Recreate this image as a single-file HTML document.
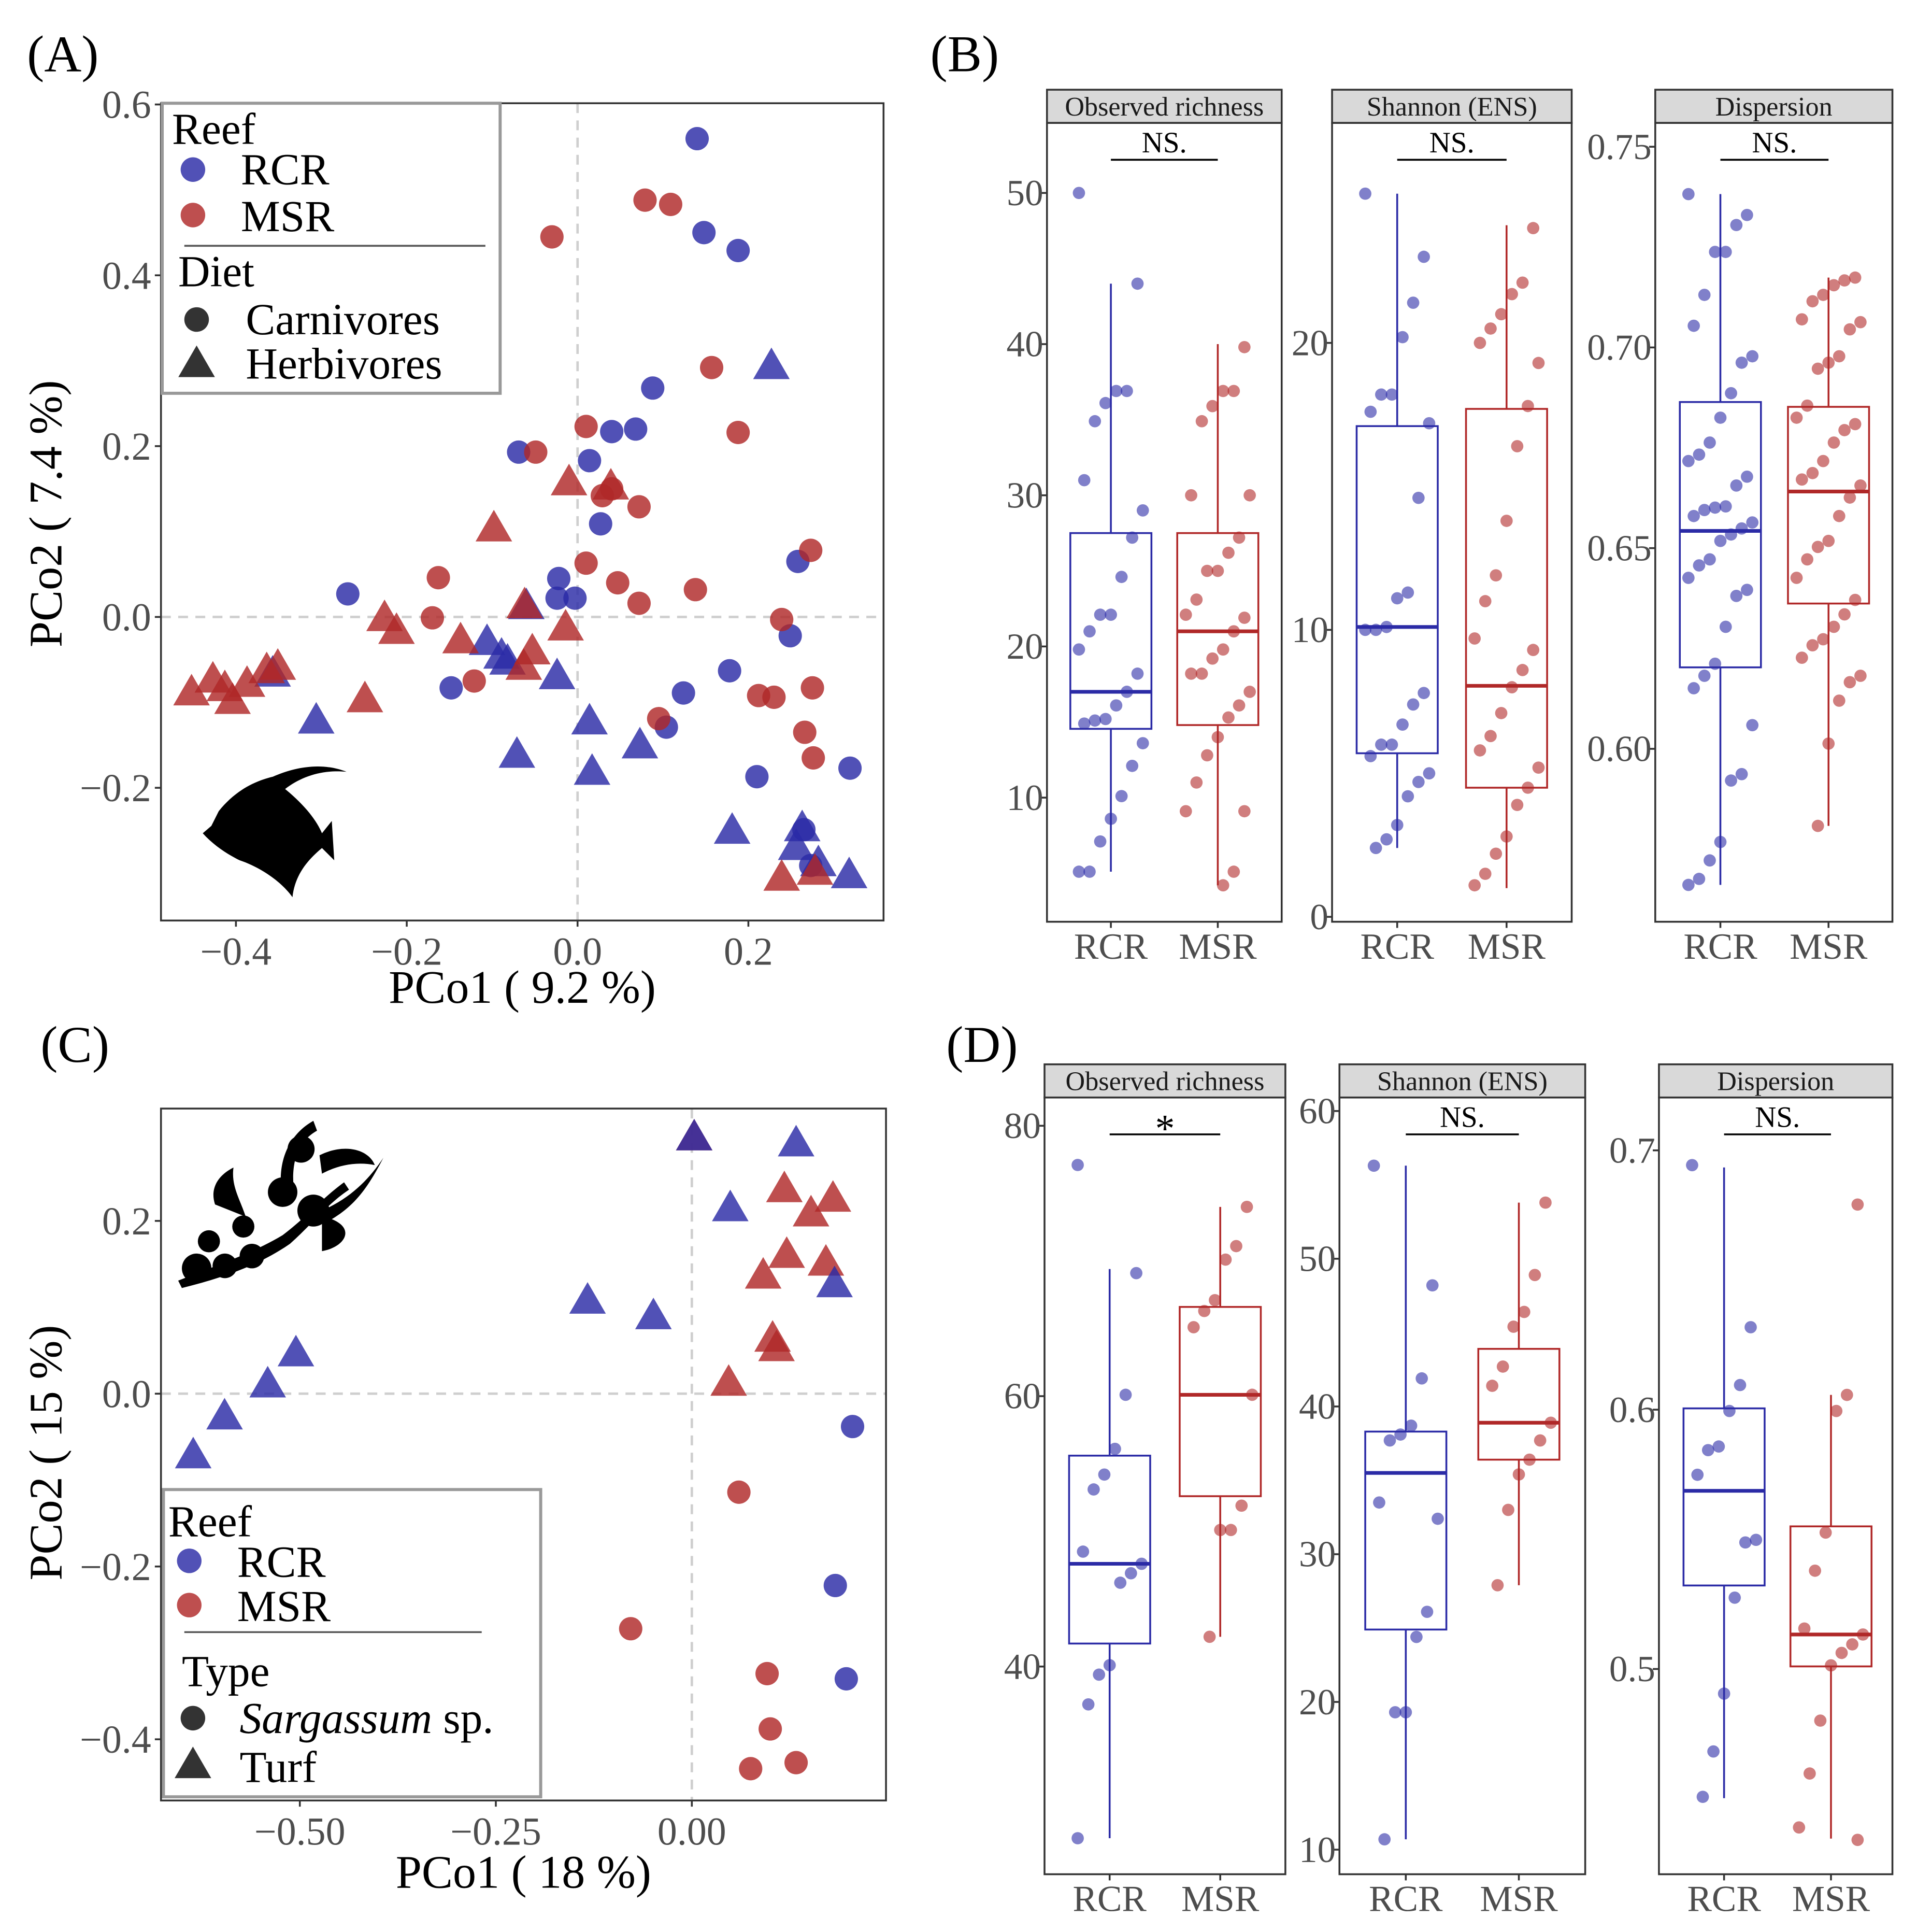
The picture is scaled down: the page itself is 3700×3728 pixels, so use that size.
<!DOCTYPE html>
<html><head><meta charset="utf-8"><style>
html,body{margin:0;padding:0;background:#fff}
svg{display:block;font-family:"Liberation Serif",serif}
</style></head><body>
<svg id="fig" width="3700" height="3728" viewBox="0 0 1560 1572" preserveAspectRatio="none" xmlns="http://www.w3.org/2000/svg">
<rect width="1560" height="1572" fill="#fff"/>
<g id="root"></g>
</svg>
<script>
// ===== Panel A data (PCo1, PCo2) =====
const aRcrCarnX=[0.14,0.148,0.188,0.088,0.040,0.068,-0.069,0.014,0.027,-0.022,-0.024,-0.003,-0.269,-0.148,0.178,0.124,0.104,0.210,0.319,0.258,0.249,0.265,0.273];
const aRcrCarnY=[0.56,0.45,0.429,0.268,0.217,0.220,0.193,0.183,0.109,0.045,0.022,0.022,0.027,-0.083,-0.063,-0.089,-0.129,-0.187,-0.177,0.065,-0.022,-0.249,-0.291];
const aMsrCarnX=[0.079,0.109,-0.030,0.157,0.188,0.010,-0.049,0.029,0.040,0.072,0.010,0.047,0.138,0.072,-0.163,-0.170,-0.121,0.095,0.212,0.230,0.273,0.239,0.275,0.266,0.276];
const aMsrCarnY=[0.488,0.483,0.445,0.292,0.216,0.223,0.193,0.142,0.150,0.129,0.063,0.040,0.032,0.016,0.046,-0.001,-0.075,-0.119,-0.092,-0.094,0.078,-0.003,-0.083,-0.135,-0.165];
const aRcrHerbX=[0.227,-0.060,-0.106,-0.089,-0.082,-0.024,0.014,-0.306,-0.071,0.017,0.073,0.181,0.263,0.256,0.282,0.318,-0.357];
const aRcrHerbY=[0.294,0.013,-0.029,-0.045,-0.052,-0.069,-0.122,-0.121,-0.161,-0.181,-0.150,-0.250,-0.247,-0.269,-0.288,-0.302,-0.066];
const aMsrHerbX=[-0.010,0.039,-0.098,-0.226,-0.212,-0.137,-0.062,-0.014,-0.053,-0.063,-0.249,-0.452,-0.427,-0.413,-0.404,-0.387,-0.364,-0.351,0.239,0.278];
const aMsrHerbY=[0.158,0.153,0.104,-0.001,-0.016,-0.027,0.014,-0.012,-0.040,-0.058,-0.096,-0.088,-0.073,-0.083,-0.098,-0.078,-0.062,-0.058,-0.305,-0.298];
const aXTicks=[-0.4,-0.2,0.0,0.2];
const aYTicks=[-0.2,0.0,0.2,0.4,0.6];
// ===== Panel C data =====
const cRcrTurfX=[0.003,0.133,0.049,0.182,-0.133,-0.049,-0.505,-0.541,-0.596,-0.636];
const cRcrTurfY=[0.297,0.290,0.215,0.127,0.108,0.090,0.047,0.011,-0.026,-0.071];
const cMsrTurfX=[0.118,0.152,0.180,0.121,0.091,0.171,0.103,0.108,0.047,0.003];
const cMsrTurfY=[0.237,0.209,0.226,0.161,0.137,0.152,0.064,0.053,0.013,0.297];
const cRcrSargX=[0.205,0.183,0.197];
const cRcrSargY=[-0.038,-0.222,-0.330];
const cMsrSargX=[0.060,-0.078,0.096,0.100,0.075,0.133];
const cMsrSargY=[-0.114,-0.272,-0.324,-0.388,-0.434,-0.427];
const cXTicks=[-0.50,-0.25,0.00];
const cYTicks=[-0.4,-0.2,0.0,0.2];
// ===== Panel B data =====
const bRichRcr=[50,44,36.9,36.9,36.1,34.9,31,29,27.2,24.6,22.1,22.1,21,19.8,18.2,17,16.1,15.2,15.1,14.9,13.6,12.1,10.1,8.6,7.1,5.1,5.1];
const bRichMsr=[39.8,36.9,36.9,35.9,34.9,30,30,27.2,26.2,25,25,23.1,22.1,21.9,21,19.8,19.2,18.2,18.2,17,16.1,15.3,14,12.8,11,9.1,9.1,5.1,4.2];
const bRichBoxRcr=[5.1,14.55,17,27.5,44];
const bRichBoxMsr=[4.2,14.8,21,27.5,40];
const bShanRcr=[25.2,23,21.4,20.2,18.2,18.2,17.6,17.2,14.6,11.3,11.1,10.1,10,10,7.8,7.4,6.7,6,6,5.6,5,4.7,4.2,3.2,2.7,2.4];
const bShanMsr=[24,22.1,21.7,21,20.5,20,19.3,17.8,16.4,13.8,11.9,11,9.7,9.3,8.6,8,7.1,6.3,5.8,5.2,4.5,3.9,2.8,2.2,1.5,1.1];
const bShanBoxRcr=[2.4,5.7,10.1,17.1,25.2];
const bShanBoxMsr=[1.0,4.5,8.05,17.7,24.1];
const bDispRcr=[0.7382,0.7330,0.7305,0.7238,0.7238,0.7131,0.7054,0.6978,0.6962,0.6886,0.6825,0.6763,0.6733,0.6717,0.6678,0.6656,0.6604,0.6601,0.6595,0.6580,0.6564,0.6549,0.6534,0.6518,0.6472,0.6457,0.6426,0.6396,0.6381,0.6304,0.6212,0.6182,0.6151,0.6059,0.5937,0.5921,0.5768,0.5722,0.5676,0.5661];
const bDispMsr=[0.7174,0.7167,0.7155,0.7131,0.7115,0.7070,0.7063,0.7045,0.6978,0.6962,0.6947,0.6855,0.6825,0.6809,0.6794,0.6763,0.6717,0.6687,0.6671,0.6656,0.6626,0.6580,0.6518,0.6503,0.6472,0.6426,0.6371,0.6335,0.6304,0.6273,0.6258,0.6227,0.6182,0.6166,0.6120,0.6013,0.5808];
const bDispBoxRcr=[0.5661,0.6203,0.6543,0.6864,0.7382];
const bDispBoxMsr=[0.5808,0.6362,0.6641,0.6852,0.7174];
// ===== Panel D data =====
const dRichRcr=[77.1,69.1,60.1,56.1,54.2,53.1,48.5,47.6,46.9,46.2,40.1,39.4,37.2,27.3];
const dRichMsr=[74,71.1,70.1,67.1,66.3,65.1,60.1,51.9,50.1,50.1,42.2];
const dRichBoxRcr=[27.3,41.7,47.6,55.6,69.4];
const dRichBoxMsr=[42.2,52.6,60.1,66.6,74];
const dShanRcr=[56.3,48.2,41.9,38.7,38.1,37.7,33.5,32.4,26.1,24.4,19.3,19.3,10.7];
const dShanMsr=[53.8,48.9,46.4,45.4,42.7,41.4,38.9,37.7,36.4,35.4,33,27.9];
const dShanBoxRcr=[10.7,24.9,35.5,38.3,56.3];
const dShanBoxMsr=[27.9,36.4,38.9,43.9,53.8];
const dDispRcr=[0.6943,0.6318,0.6095,0.5995,0.5858,0.5844,0.5749,0.5498,0.5488,0.5275,0.4905,0.4682,0.4507];
const dDispMsr=[0.6791,0.6057,0.5995,0.5526,0.5379,0.5156,0.5133,0.5095,0.5062,0.5014,0.4801,0.4597,0.4389,0.4341];
const dDispBoxRcr=[0.4502,0.5322,0.5687,0.6005,0.6934];
const dDispBoxMsr=[0.4346,0.501,0.5133,0.555,0.6057];
const groups=["RCR","MSR"];

const NS="http://www.w3.org/2000/svg";
const root=document.getElementById('root');
const BLUE="#2b2ba6", RED="#b02828";
function mk(tag,attrs,parent){const e=document.createElementNS(NS,tag);for(const k in attrs)e.setAttribute(k,attrs[k]);(parent||root).appendChild(e);return e;}
function txt(x,y,s,size,anchor,fill,parent,extra){const t=mk('text',Object.assign({x:x,y:y,'font-size':size,'text-anchor':anchor||'start',fill:fill||'#000'},extra||{}),parent);t.textContent=s;return t;}
function tri(cx,cy,s,fill,op,parent){return mk('polygon',{points:`${cx},${cy-s*0.62} ${cx-s*0.62},${cy+s*0.45} ${cx+s*0.62},${cy+s*0.45}`,fill:fill,'fill-opacity':op},parent);}

// ---------- Scatter panels ----------
function scatterPanel(cfg){
  const g=mk('g',{});
  
  
  const sx=v=>cfg.x0+v*cfg.kx, sy=v=>cfg.y0-v*cfg.ky;
  mk('rect',{x:cfg.l,y:cfg.t,width:cfg.r-cfg.l,height:cfg.b-cfg.t,fill:'#fff'},g);
  mk('line',{x1:sx(0),x2:sx(0),y1:cfg.t,y2:cfg.b,stroke:'#cfcfcf','stroke-width':2,'stroke-dasharray':'8,6'},g);
  mk('line',{x1:cfg.l,x2:cfg.r,y1:sy(0),y2:sy(0),stroke:'#cfcfcf','stroke-width':2,'stroke-dasharray':'8,6'},g);
  cfg.series.forEach(s=>{
    s.x.forEach((v,i)=>{
      let el;
      if(s.shape==='c') el=mk('circle',{cx:sx(v),cy:sy(s.y[i]),r:9.5,fill:s.col,'fill-opacity':0.82},g);
      else el=tri(sx(v),sy(s.y[i]),24,s.col,0.82,g);
      
      
    });
  });
  mk('rect',{x:cfg.l,y:cfg.t,width:cfg.r-cfg.l,height:cfg.b-cfg.t,fill:'none',stroke:'#333','stroke-width':1.5},g);
  cfg.xt.forEach(v=>{mk('line',{x1:sx(v),x2:sx(v),y1:cfg.b,y2:cfg.b+5,stroke:'#333','stroke-width':1.5},g);
    const t=txt(sx(v),cfg.b+36,v===0?cfg.xfmt(0):cfg.xfmt(v).replace('-','\u2212'),32,'middle','#4d4d4d',g);
    });
  cfg.yt.forEach(v=>{mk('line',{x1:cfg.l-5,x2:cfg.l,y1:sy(v),y2:sy(v),stroke:'#333','stroke-width':1.5},g);
    const t=txt(cfg.l-8,sy(v)+11,v.toFixed(1).replace('-','\u2212'),32,'end','#4d4d4d',g);
    });
  const xl=txt((cfg.l+cfg.r)/2,cfg.xlY,cfg.xlab,38,'middle','#000',g);
  
  const yl=txt(0,0,cfg.ylab,38,'middle','#000',g,{transform:`translate(50,${cfg.ylY}) rotate(-90)`});
  
  return g;
}
scatterPanel({name:'panel-a-pcoa',l:131,r:719,t:84,b:749,x0:470,kx:695,y0:502,ky:695,xt:aXTicks,yt:aYTicks,xfmt:v=>v.toFixed(1),
 xlab:'PCo1 ( 9.2 %)',xlY:816,ylab:'PCo2 ( 7.4 %)',ylY:418,
 series:[{x:aRcrCarnX,y:aRcrCarnY,shape:'c',col:BLUE,nm:'rcr-carnivore'},{x:aMsrCarnX,y:aMsrCarnY,shape:'c',col:RED,nm:'msr-carnivore'},
 {x:aRcrHerbX,y:aRcrHerbY,shape:'t',col:BLUE,nm:'rcr-herbivore'},{x:aMsrHerbX,y:aMsrHerbY,shape:'t',col:RED,nm:'msr-herbivore'}]});
scatterPanel({name:'panel-c-pcoa',l:131,r:721,t:902,b:1465,x0:563,kx:638,y0:1134,ky:703,xt:cXTicks,yt:cYTicks,xfmt:v=>v.toFixed(2),
 xlab:'PCo1 ( 18 %)',xlY:1536,ylab:'PCo2 ( 15 %)',ylY:1182,
 series:[{x:cMsrTurfX,y:cMsrTurfY,shape:'t',col:RED,nm:'msr-turf'},{x:cRcrTurfX,y:cRcrTurfY,shape:'t',col:BLUE,nm:'rcr-turf'},
 {x:cRcrSargX,y:cRcrSargY,shape:'c',col:BLUE,nm:'rcr-sargassum'},{x:cMsrSargX,y:cMsrSargY,shape:'c',col:RED,nm:'msr-sargassum'}]});

// Legends
function legend(name,box,items){
  const g=mk('g',{});
  mk('rect',Object.assign({fill:'#fff',stroke:'#999','stroke-width':2.5},box),g);
  items(g);
}
legend('legend-a',{x:132,y:84,width:275,height:236},g=>{
  txt(140,117,'Reef',36,'start','#000',g);
  mk('circle',{cx:157,cy:138,r:10,fill:BLUE,'fill-opacity':0.82},g);txt(196,150,'RCR',36,'start','#000',g);
  mk('circle',{cx:157,cy:175,r:10,fill:RED,'fill-opacity':0.82},g);txt(196,188,'MSR',36,'start','#000',g);
  mk('line',{x1:150,x2:395,y1:200,y2:200,stroke:'#555','stroke-width':1.5},g);
  txt(145,233,'Diet',36,'start','#000',g);
  mk('circle',{cx:160,cy:260,r:10,fill:'#333'},g);txt(200,272,'Carnivores',36,'start','#000',g);
  tri(160,296,24,'#333',1,g);txt(200,308,'Herbivores',36,'start','#000',g);
});
legend('legend-c',{x:133,y:1212,width:307,height:250},g=>{
  txt(137,1250,'Reef',36,'start','#000',g);
  mk('circle',{cx:154,cy:1270,r:10,fill:BLUE,'fill-opacity':0.82},g);txt(193,1283,'RCR',36,'start','#000',g);
  mk('circle',{cx:154,cy:1306,r:10,fill:RED,'fill-opacity':0.82},g);txt(193,1319,'MSR',36,'start','#000',g);
  mk('line',{x1:150,x2:392,y1:1328,y2:1328,stroke:'#555','stroke-width':1.5},g);
  txt(148,1372,'Type',36,'start','#000',g);
  mk('circle',{cx:157,cy:1398,r:10,fill:'#333'},g);
  const t=txt(195,1410,'',36,'start','#000',g);
  const a=mk('tspan',{'font-style':'italic'},t);a.textContent='Sargassum';const b=mk('tspan',{},t);b.textContent=' sp.';
  tri(157,1436,24,'#333',1,g);txt(195,1450,'Turf',36,'start','#000',g);
});

// silhouettes
const fish=mk('path',{d:'M178,660 C190,645 205,636 222,632 C240,624 262,620 282,628 C262,626 245,632 232,642 C248,655 258,668 262,678 L270,668 L272,700 L262,690 C250,700 240,712 238,730 C228,716 210,705 195,700 C185,695 174,688 165,678 L172,672 Z',fill:'#000'});

const sg=mk('g',{fill:'#000'});
mk('path',{d:'M145,1042 C175,1030 205,1020 230,1005 C250,990 262,975 280,962 L284,968 C266,980 254,996 236,1012 C210,1030 180,1040 148,1048 Z'},sg);
[[160,1032,12],[183,1030,10],[205,1022,10],[230,970,12],[255,985,13],[245,935,11],[170,1010,9],[198,998,9]].forEach(c=>mk('circle',{cx:c[0],cy:c[1],r:c[2]},sg));
mk('path',{d:'M230,975 C225,950 232,925 255,912 L258,920 C240,930 236,950 240,975 Z'},sg);
mk('path',{d:'M262,985 C285,975 300,960 312,942 C300,965 290,980 270,992 C290,1000 280,1015 262,1018 Z'},sg);
mk('path',{d:'M175,980 C170,965 180,955 190,950 C188,965 195,975 200,990 Z'},sg);
mk('path',{d:'M260,940 C280,930 300,935 305,948 C290,945 275,948 262,955 Z'},sg);

// ---------- Box facets ----------
function facet(cfg){
  const g=mk('g',{});
  const sy=v=>cfg.py0+(v-cfg.v0)*cfg.k;
  mk('rect',{x:cfg.l,y:cfg.st,width:cfg.r-cfg.l,height:cfg.t-cfg.st,fill:'#d9d9d9',stroke:'#333','stroke-width':1.5},g);
  txt((cfg.l+cfg.r)/2,cfg.t-6,cfg.title,22,'middle','#1a1a1a',g);
  mk('rect',{x:cfg.l,y:cfg.t,width:cfg.r-cfg.l,height:cfg.b-cfg.t,fill:'none',stroke:'#333','stroke-width':1.5},g);
  const cols=[BLUE,RED];
  [cfg.boxR,cfg.boxM].forEach((bx,gi)=>{
    const cx=cfg.cx[gi],hw=33,c=cols[gi];
    const bg=mk('g',{},g);
    mk('line',{x1:cx,x2:cx,y1:sy(bx[4]),y2:sy(bx[3]),stroke:c,'stroke-width':1.5},bg);
    mk('line',{x1:cx,x2:cx,y1:sy(bx[1]),y2:sy(bx[0]),stroke:c,'stroke-width':1.5},bg);
    mk('rect',{x:cx-hw,y:sy(bx[3]),width:2*hw,height:sy(bx[1])-sy(bx[3]),fill:'none',stroke:c,'stroke-width':1.5},bg);
    mk('line',{x1:cx-hw,x2:cx+hw,y1:sy(bx[2]),y2:sy(bx[2]),stroke:c,'stroke-width':3},bg);
  });
  [cfg.ptsR,cfg.ptsM].forEach((pts,gi)=>{
    pts.forEach((v,i)=>{
      const j=(((i*37+gi*11)%13)/12-0.5)*2*26;
      const p=mk('circle',{cx:cfg.cx[gi]+j,cy:sy(v),r:5,fill:cols[gi],'fill-opacity':0.6},g);
      
      
    });
  });
  cfg.ticks.forEach(v=>{mk('line',{x1:cfg.l-5,x2:cfg.l,y1:sy(v),y2:sy(v),stroke:'#333','stroke-width':1.5},g);
    const t=txt(cfg.l-3,sy(v)+10,cfg.fmt(v),30,'end','#4d4d4d',g);});
  groups.forEach((n,gi)=>{mk('line',{x1:cfg.cx[gi],x2:cfg.cx[gi],y1:cfg.b,y2:cfg.b+5,stroke:'#333','stroke-width':1.5},g);
    const t=txt(cfg.cx[gi],cfg.b+30,n,30,'middle','#4d4d4d',g);});
  mk('line',{x1:cfg.cx[0],x2:cfg.cx[1],y1:cfg.t+30,y2:cfg.t+30,stroke:'#000','stroke-width':1.5},g);
  txt((cfg.cx[0]+cfg.cx[1])/2,cfg.sig==='*'?cfg.t+36:cfg.t+24,cfg.sig,cfg.sig==='*'?32:24,'middle','#000',g);
}
const f0=v=>String(v), f2=v=>v.toFixed(2), f1=v=>v.toFixed(1);
facet({name:'b-observed-richness',l:852,r:1043,st:73,t:100,b:750,cx:[904,991],v0:10,py0:649,k:-12.3,title:'Observed richness',sig:'NS.',ticks:[10,20,30,40,50],fmt:f0,ptsR:bRichRcr,ptsM:bRichMsr,boxR:bRichBoxRcr,boxM:bRichBoxMsr});
facet({name:'b-shannon',l:1084,r:1279,st:73,t:100,b:750,cx:[1137,1226],v0:0,py0:746,k:-23.35,title:'Shannon (ENS)',sig:'NS.',ticks:[0,10,20],fmt:f0,ptsR:bShanRcr,ptsM:bShanMsr,boxR:bShanBoxRcr,boxM:bShanBoxMsr});
facet({name:'b-dispersion',l:1347,r:1540,st:73,t:100,b:750,cx:[1400,1488],v0:0.65,py0:446,k:-3266,title:'Dispersion',sig:'NS.',ticks:[0.60,0.65,0.70,0.75],fmt:f2,ptsR:bDispRcr,ptsM:bDispMsr,boxR:bDispBoxRcr,boxM:bDispBoxMsr});
facet({name:'d-observed-richness',l:850,r:1046,st:866,t:893,b:1525,cx:[903,993],v0:60,py0:1136,k:-11,title:'Observed richness',sig:'*',ticks:[40,60,80],fmt:f0,ptsR:dRichRcr,ptsM:dRichMsr,boxR:dRichBoxRcr,boxM:dRichBoxMsr});
facet({name:'d-shannon',l:1090,r:1290,st:866,t:893,b:1525,cx:[1144,1236],v0:10,py0:1505,k:-12.02,title:'Shannon (ENS)',sig:'NS.',ticks:[10,20,30,40,50,60],fmt:f0,ptsR:dShanRcr,ptsM:dShanMsr,boxR:dShanBoxRcr,boxM:dShanBoxMsr});
facet({name:'d-dispersion',l:1350,r:1540,st:866,t:893,b:1525,cx:[1403,1490],v0:0.6,py0:1147,k:-2110,title:'Dispersion',sig:'NS.',ticks:[0.5,0.6,0.7],fmt:f1,ptsR:dDispRcr,ptsM:dDispMsr,boxR:dDispBoxRcr,boxM:dDispBoxMsr});

// panel labels
[['(A)',22,58],['(B)',757,58],['(C)',33,864],['(D)',770,864]].forEach(p=>{
  const t=txt(p[1],p[2],p[0],42,'start','#000');
  
  
});
</script>
</body></html>
